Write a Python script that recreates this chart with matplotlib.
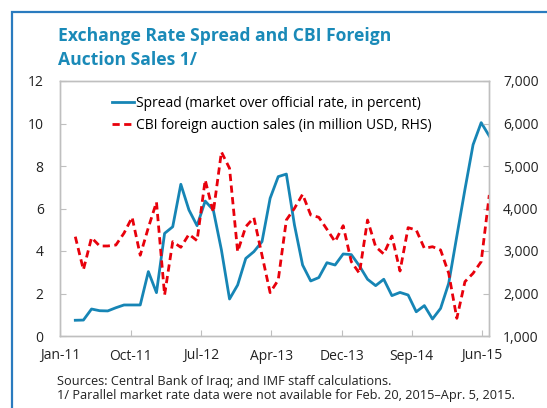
import numpy as np
import matplotlib
matplotlib.use('Agg')
import matplotlib.pyplot as plt
from matplotlib.patches import Rectangle

plt.rcParams['font.family'] = ['Open Sans', 'DejaVu Sans']

# 数据：汇率价差(%)与CBI外汇拍卖销售额(百万美元)，按月
spread = [0.74, 0.75, 1.27, 1.19, 1.18, 1.33, 1.46, 1.46, 1.46, 3.03,
          2.04, 4.83, 5.14, 7.14, 5.93, 5.19, 6.35, 5.93, 4.05, 1.74,
          2.40, 3.65, 3.97, 4.44, 6.48, 7.50, 7.62, 5.22, 3.34, 2.59,
          2.75, 3.45, 3.34, 3.86, 3.83, 3.30, 2.67, 2.37, 2.67, 1.90,
          2.05, 1.93, 1.14, 1.43, 0.80, 1.30, 2.48, 4.70, 6.90, 9.00,
          10.04, 9.41]
sales = [3337, 2560, 3313, 3118, 3118, 3141, 3420, 3793, 2900, 3550,
         4150, 1965, 3219, 3087, 3393, 3243, 4671, 3911, 5330, 4946,
         2984, 3572, 3784, 2900, 2020, 2318, 3729, 4004, 4334, 3847,
         3793, 3510, 3219, 3596, 2749, 2475, 3729, 3101, 2929, 3353,
         2529, 3549, 3494, 3063, 3101, 3024, 2475, 1416, 2278, 2475,
         2749, 4318]
tick_labels = ['Jan-11', 'Oct-11', 'Jul-12', 'Apr-13', 'Dec-13', 'Sep-14', 'Jun-15']

x = np.arange(len(spread))
tick_pos = np.linspace(-1.835, 50.11, len(tick_labels))

blue = '#1685b5'
red = '#e8000b'
grey = '#bfbfbf'
title_col = '#1a8ab8'

fig = plt.figure(figsize=(5.47, 4.08), dpi=100)
# 外框（左、上可见）
fig.patches.append(Rectangle((12 / 547, -0.05), 1.2, 1 - 12 / 408 + 0.05,
                             transform=fig.transFigure, fill=False,
                             edgecolor='#2a7bbf', linewidth=1.6))

ax = fig.add_axes([60.4 / 547, 1 - 336 / 408, (489.3 - 60.4) / 547, (336 - 81) / 408])
ax2 = ax.twinx()

l1, = ax.plot(x, spread, color=blue, linewidth=2.0,
              label='Spread (market over official rate, in percent)')
l2, = ax2.plot(x, sales, color=red, linewidth=2.0, dashes=(2.6, 1.6),
               label='CBI foreign auction sales (in million USD, RHS)')

ax.set_xlim(-1.835, 51)
ax.set_ylim(0, 12)
ax.set_yticks(range(0, 13, 2))
ax2.set_ylim(1000, 7000)
ax2.set_yticks(range(1000, 7001, 1000))
ax2.set_yticklabels([f'{v:,}' for v in range(1000, 7001, 1000)])
ax.set_xticks(tick_pos)
ax.set_xticklabels(tick_labels)

for a in (ax, ax2):
    for s in a.spines.values():
        s.set_color(grey)
        s.set_linewidth(1.0)
    a.tick_params(direction='in', length=4, color=grey, labelsize=10,
                  labelcolor='#222222')
ax.tick_params(axis='y', pad=12)
ax2.tick_params(axis='y', pad=10)
ax.tick_params(axis='x', pad=9)

ax.legend([l1, l2], [l1.get_label(), l2.get_label()], loc='upper left',
          bbox_to_anchor=(0.1, 0.975), frameon=False, fontsize=10,
          handlelength=1.6, handletextpad=0.15, labelspacing=0.55,
          borderaxespad=0.2)

fig.text(58 / 547, 1 - 48 / 408, 'Exchange Rate Spread and CBI Foreign\nAuction Sales 1/',
         fontsize=12.6, fontweight='bold', color=title_col, va='center',
         linespacing=1.43, ha='left')
fig.text(57 / 547, 1 - 381 / 408, 'Sources: Central Bank of Iraq; and IMF staff calculations.',
         fontsize=9.2, color='#222222', va='center')
fig.text(57 / 547, 1 - 396 / 408,
         '1/ Parallel market rate data were not available for Feb. 20, 2015\u2013Apr. 5, 2015.',
         fontsize=9.2, color='#222222', va='center')

fig.savefig('out.png', dpi=100)
